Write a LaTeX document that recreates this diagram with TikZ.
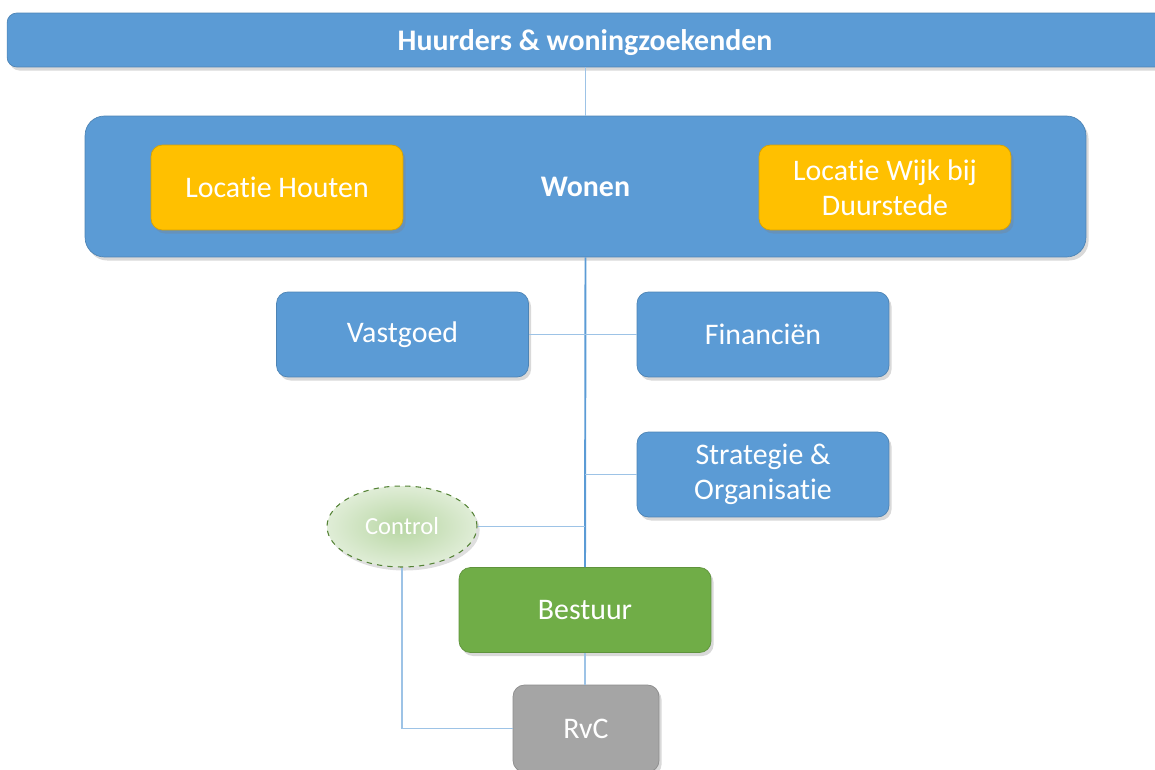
\documentclass[tikz,border=0pt]{standalone}
\usepackage{fontspec}
\setmainfont{Carlito}[Ligatures=NoCommon]
\usetikzlibrary{shapes.geometric,shadows}

\definecolor{officeblue}{HTML}{5B9BD5}
\definecolor{officegold}{HTML}{FFC000}
\definecolor{officegreen}{HTML}{70AD47}
\definecolor{officegray}{HTML}{A5A5A5}
\definecolor{linklight}{HTML}{9DC3E6}

\begin{document}
\begin{tikzpicture}[x=0.02cm, y=-0.02cm,
  box/.style={rounded corners=6.5pt, minimum width=5.04cm, minimum height=1.7cm,
    text=white, align=center, inner sep=2pt, font=\fontsize{17}{20}\selectfont,
    drop shadow={opacity=0.3, shadow xshift=1.5pt, shadow yshift=-2pt}},
  bluebox/.style={box, fill=officeblue, draw=officeblue!85!black, line width=0.4pt},
  goldbox/.style={box, fill=officegold, draw=officegold!85!black, line width=0.4pt},
  link/.style={draw=linklight, line width=1pt},
  mainlink/.style={draw=officeblue, line width=1.1pt}]
  \useasboundingbox (0,0) rectangle (1155,770);
  \clip (0,0) rectangle (1155,770);

  % bands
  \node[bluebox, rounded corners=5.5pt, minimum width=26cm, minimum height=1.08cm] (huurders) at (657,40) {};
  \node[text=white, font=\bfseries\fontsize{17}{20}\selectfont] (huurderstxt) at (585,42.5) {Huurders \& woningzoekenden};
  \node[bluebox, rounded corners=11pt, minimum width=20.02cm, minimum height=2.82cm,
    font=\bfseries\fontsize{17}{20}\selectfont] (wonen) at (585.5,186.5) {Wonen};

  % locaties
  \node[goldbox] (houten) at (277,187.5) {Locatie Houten};
  \node[goldbox] (wijk) at (885,187.5) {Locatie Wijk bij\\Duurstede};

  % afdelingen
  \node[bluebox] (vastgoed) at (402.5,334.5) {Vastgoed};
  \node[bluebox] (financien) at (763,334.5) {Financiën};
  \node[bluebox] (strategie) at (763,474.5) {Strategie \&\\Organisatie};

  \node[ellipse, minimum width=3cm, minimum height=1.62cm, dashed, line width=0.6pt,
    draw=officegreen!75!black, inner color=officegreen!50, outer color=officegreen!22,
    text=white, font=\fontsize{14}{16}\selectfont,
    drop shadow={opacity=0.25, shadow xshift=1.5pt, shadow yshift=-2pt}] (control) at (402,526.5) {Control};

  \node[box, fill=officegreen, draw=officegreen!85!black, line width=0.4pt] (bestuur) at (585,610) {Bestuur};
  \node[box, fill=officegray, draw=officegray!85!black, line width=0.4pt,
    minimum width=2.92cm, minimum height=1.74cm] (rvc) at (586,728.5) {RvC};

  % lijnen
  \draw[link] (wonen.north |- huurders.south) -- (wonen.north);
  \draw[mainlink] (wonen.south) -- (bestuur.north);
  \draw[link] (vastgoed.east) -- (financien.west);
  \draw[link] (strategie.west) -- (strategie.west -| bestuur.north);
  \draw[link] (control.east) -- (control.east -| bestuur.north);
  \draw[link] (bestuur.south) -- (bestuur.south |- rvc.north);
  \draw[link] (control.south) -- (control.south |- rvc.west) -- (rvc.west);
\end{tikzpicture}
\end{document}
